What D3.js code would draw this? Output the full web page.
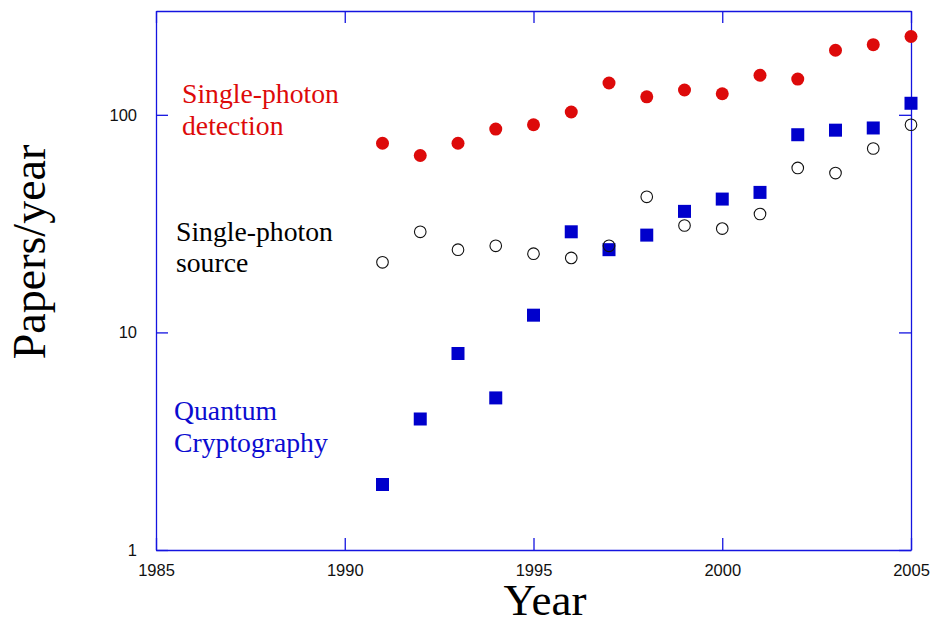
<!DOCTYPE html>
<html>
<head>
<meta charset="utf-8">
<script src="https://cdn.jsdelivr.net/npm/d3@7"></script>
<style>
  body { margin: 0; background: #fff; }
</style>
</head>
<body>
<svg id="chart"></svg>
<script>
// data
var years = [1991, 1992, 1993, 1994, 1995, 1996, 1997, 1998, 1999, 2000, 2001, 2002, 2003, 2004, 2005];
var detection = [74, 65, 74, 86, 90, 103, 140, 121, 130, 125, 152, 146, 198, 210, 229];
var photonSource = [21, 29, 24, 25, 23, 22, 25, 42, 31, 30, 35, 57, 54, 70, 90];
var cryptography = [2, 4, 8, 5, 12, 29, 24, 28, 36, 41, 44, 81, 85, 87, 113];
var xTicks = [1985, 1990, 1995, 2000, 2005];
var yTicks = [1, 10, 100];

// parameters
var width = 932;
var height = 623;
var plotLeft = 156, plotRight = 911, plotTop = 11, plotBottom = 550;
var axisColor = "#1414e0";

var svg = d3.select("#chart");
svg.attr("width", width);
svg.attr("height", height);

var x = d3.scaleLinear().domain([1985, 2005]).range([plotLeft, plotRight]);
var y = d3.scaleLog().domain([1, 300]).range([plotBottom, plotTop]);

// axes, ticks point inwards
var bottomAxis = svg.append("g")
  .attr("transform", "translate(0," + plotBottom + ")")
  .call(d3.axisBottom(x).tickValues(xTicks).tickFormat(d3.format("d"))
    .tickSizeInner(-12).tickSizeOuter(0).tickPadding(14));

var topAxis = svg.append("g")
  .attr("transform", "translate(0," + plotTop + ")")
  .call(d3.axisTop(x).tickValues(xTicks).tickFormat("")
    .tickSizeInner(-12).tickSizeOuter(0));

var leftAxis = svg.append("g")
  .attr("transform", "translate(" + plotLeft + ",0)")
  .call(d3.axisLeft(y).tickValues(yTicks).tickFormat(d3.format("d"))
    .tickSizeInner(-12).tickSizeOuter(0).tickPadding(19));

var rightAxis = svg.append("g")
  .attr("transform", "translate(" + plotRight + ",0)")
  .call(d3.axisRight(y).tickValues(yTicks).tickFormat("")
    .tickSizeInner(-12).tickSizeOuter(0));

[bottomAxis, topAxis, leftAxis, rightAxis].forEach(function (g) {
  g.select(".domain").attr("stroke", axisColor).attr("stroke-width", 1.3);
  g.selectAll(".tick line").attr("stroke", axisColor).attr("stroke-width", 1.3);
  g.selectAll(".tick text")
    .attr("fill", "#111")
    .style("font-family", "Liberation Sans, Arial, sans-serif")
    .style("font-size", "16.5px");
});

// axis titles
svg.append("text")
  .attr("x", 545)
  .attr("y", 615)
  .attr("text-anchor", "middle")
  .style("font-family", "Liberation Serif, Times New Roman, serif")
  .style("font-size", "45px")
  .text("Year");

svg.append("text")
  .attr("transform", "translate(45,252) rotate(-90)")
  .attr("text-anchor", "middle")
  .style("font-family", "Liberation Serif, Times New Roman, serif")
  .style("font-size", "46px")
  .text("Papers/year");

// series labels
function label(lines, lx, ly, color) {
  var t = svg.append("text")
    .attr("x", lx)
    .attr("y", ly)
    .attr("fill", color)
    .style("font-family", "Liberation Serif, Times New Roman, serif")
    .style("font-size", "27.7px");
  lines.forEach(function (s, i) {
    t.append("tspan").attr("x", lx).attr("dy", i == 0 ? 0 : 31.5).text(s);
  });
}
label(["Single-photon", "detection"], 182, 103, "#dd0a0a");
label(["Single-photon", "source"], 176, 240.5, "#000");
label(["Quantum", "Cryptography"], 174, 420, "#0c0cd0");

// quantum cryptography squares
var sq = 13;
for (var i = 0; i < years.length; i += 1) {
  svg.append("rect")
    .attr("x", x(years[i]) - sq / 2)
    .attr("y", y(cryptography[i]) - sq / 2)
    .attr("width", sq)
    .attr("height", sq)
    .attr("fill", "#0000cc");
}

// detection filled circles
for (var i = 0; i < years.length; i += 1) {
  svg.append("circle")
    .attr("cx", x(years[i]))
    .attr("cy", y(detection[i]))
    .attr("r", 6.5)
    .attr("fill", "#dd0a0a");
}

// source open circles
for (var i = 0; i < years.length; i += 1) {
  svg.append("circle")
    .attr("cx", x(years[i]))
    .attr("cy", y(photonSource[i]))
    .attr("r", 5.8)
    .attr("fill", "none")
    .attr("stroke", "#111")
    .attr("stroke-width", 1.1);
}
</script>
</body>
</html>
